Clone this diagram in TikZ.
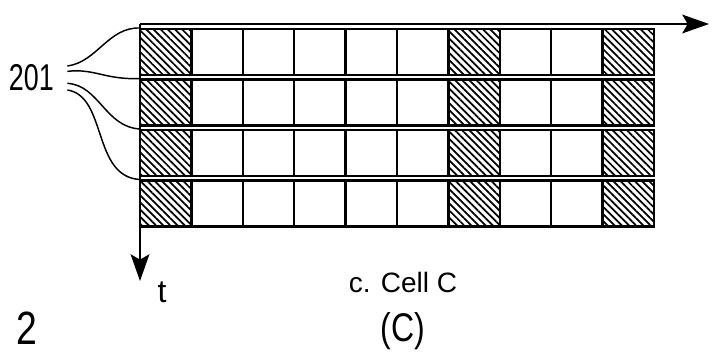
\documentclass[tikz,border=0pt]{standalone}
\usepackage{fontspec}
\setmainfont{Liberation Sans}
\newfontfamily\numfont[FakeStretch=0.72]{Liberation Sans}
\newfontfamily\bigfont[FakeStretch=0.8]{Liberation Sans}
\usetikzlibrary{arrows.meta,patterns.meta}

\begin{document}
\begin{tikzpicture}[x=0.75pt,y=-0.75pt,
        cellbox/.style={draw=black, line width=1.8pt, fill=white},
        hatchbox/.style={cellbox, pattern={Lines[angle=-45,distance=3.8pt,line width=1.3pt]}},
        axis/.style={-{Stealth[length=20pt,width=14pt,inset=4pt]}, line width=2pt},
        leader/.style={line width=1.1pt},
        lbl/.style={inner sep=0pt, font=\fontsize{21}{25}\selectfont}
      ]
        \useasboundingbox (0,0) rectangle (724,356);

        \foreach \r in {0,...,3}{
          \foreach \c in {0,...,9}{
            \pgfmathsetmacro{\xa}{140+51.4*\c}
            \pgfmathsetmacro{\ya}{29+50.5*\r}
            \ifnum\c=0 \def\cs{hatchbox}\else\ifnum\c=6 \def\cs{hatchbox}\else\ifnum\c=9 \def\cs{hatchbox}\else\def\cs{cellbox}\fi\fi\fi
            \draw[\cs] (\xa,\ya) rectangle ++(51.4,46);
          }
          \coordinate (row\r) at (140,{28+50.5*\r});
        }

        \coordinate (origin) at (140,24);
        \coordinate (fend) at (709,24);
        \coordinate (tend) at (140,281);
        \draw[axis] (origin) -- (fend);
        \draw[axis] (origin) -- (tend);

        \node[lbl, font=\fontsize{24}{28}\selectfont] (tlab) at (162,292) {t};
        \node[lbl, font=\numfont\fontsize{28}{32}\selectfont, anchor=east] (num) at (54,78) {201};
        \node[lbl] (cap) at (403,282) {c. Cell C};
        \node[lbl, font=\bigfont\fontsize{30}{34}\selectfont] (sub) at (403,331) {(C)};
        \node[lbl, font=\bigfont\fontsize{35}{38}\selectfont] (fig) at (27,328) {2};

        \draw[leader] ([xshift=10pt,yshift=9pt]num.east) .. controls +(30,-4) and (108,27) .. (row0);
        \draw[leader] ([xshift=10pt,yshift=5pt]num.east) .. controls +(28,-3) and (105,80) .. (row1);
        \draw[leader] ([xshift=10pt,yshift=-4pt]num.east) .. controls +(32,2) and (105,127) .. (row2);
        \draw[leader] ([xshift=10pt,yshift=-9pt]num.east) .. controls +(40,6) and (92,177) .. (row3);
      \end{tikzpicture}
\end{document}
